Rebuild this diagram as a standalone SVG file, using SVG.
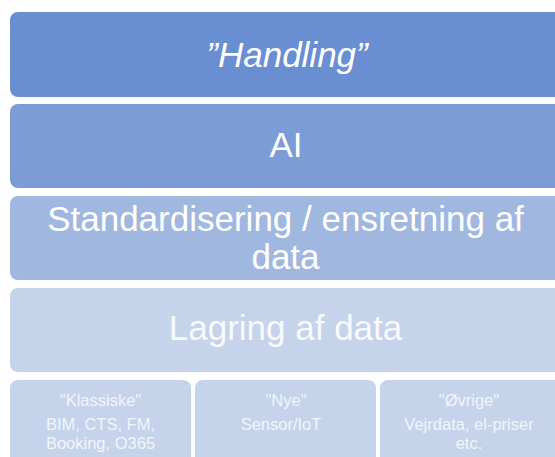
<svg xmlns="http://www.w3.org/2000/svg" width="555" height="457" viewBox="0 0 555 457">
  <style>
    .layer { stroke: none; }
    .big { font-family: "Liberation Sans", Arial, sans-serif; font-size: 35px; fill: #ffffff; text-anchor: middle; }
    .small { font-family: "Liberation Sans", Arial, sans-serif; font-size: 16.5px; fill: #ffffff; fill-opacity: 0.8; text-anchor: middle; }
  </style>
  <rect width="555" height="457" fill="#ffffff"/>

  <!-- stacked layers, top to bottom -->
  <g id="handling">
    <rect class="layer" x="10" y="12" width="560" height="85" rx="8" fill="#6A8ED2"/>
    <text class="big" x="287" y="67" font-style="italic">”Handling”</text>
  </g>
  <g id="ai">
    <rect class="layer" x="10" y="104" width="560" height="84" rx="8" fill="#7C9CD5"/>
    <text class="big" x="286" y="157">AI</text>
  </g>
  <g id="standardisering">
    <rect class="layer" x="10" y="196" width="560" height="84" rx="8" fill="#A0B7DF"/>
    <text class="big" x="285.5" y="231">Standardisering / ensretning af</text>
    <text class="big" x="285.5" y="269">data</text>
  </g>
  <g id="lagring">
    <rect class="layer" x="10" y="288" width="560" height="84" rx="8" fill="#C5D3EB"/>
    <text class="big" x="285.5" y="340" fill-opacity="0.9">Lagring af data</text>
  </g>

  <!-- data sources -->
  <g id="klassiske">
    <rect class="layer" x="10" y="380" width="181" height="95" rx="8" fill="#C5D3EB"/>
    <text class="small" x="100.5" y="406">"Klassiske"</text>
    <text class="small" x="100.5" y="430">BIM, CTS, FM,</text>
    <text class="small" x="100.5" y="449">Booking, O365</text>
  </g>
  <g id="nye">
    <rect class="layer" x="195" y="380" width="181" height="95" rx="8" fill="#C5D3EB"/>
    <text class="small" x="286" y="406">"Nye"</text>
    <text class="small" x="281" y="430">Sensor/IoT</text>
  </g>
  <g id="oevrige">
    <rect class="layer" x="380" y="380" width="190" height="95" rx="8" fill="#C5D3EB"/>
    <text class="small" x="469" y="406">"Øvrige"</text>
    <text class="small" x="469" y="430">Vejrdata, el-priser</text>
    <text class="small" x="469" y="449">etc.</text>
  </g>

  <g id="connectors"/>
</svg>
